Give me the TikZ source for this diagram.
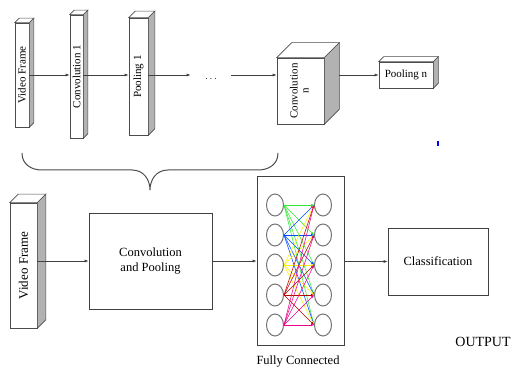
\documentclass[tikz,border=0pt]{standalone}
\usepackage{fontspec}
\setmainfont{Liberation Serif}
\usepackage{graphicx}
\usetikzlibrary{shapes,arrows.meta}

% top and side faces behind a slab node: #1 node name, #2 depth
\newcommand{\slabfaces}[2]{%
  \filldraw[draw=black!70, fill=white, line width=0.6pt]
    (#1.north west) -- ++(#2,-#2) -- ([shift={(#2,-#2)}]#1.north east) -- (#1.north east) -- cycle;
  \filldraw[draw=black!70, fill=black!30, line width=0.6pt]
    (#1.north east) -- ++(#2,-#2) -- ([shift={(#2,-#2)}]#1.south east) -- (#1.south east) -- cycle;
}

\begin{document}
\begin{tikzpicture} [
    x=1pt, y=-1pt,
    node distance=60pt,
    line width=0.6pt,
  ]

  \tikzstyle{slab} = [
    rectangle,
    draw=black!70,
    fill=white,
    inner sep=0pt,
    font=\fontsize{11}{13}\selectfont,
  ]
  \tikzstyle{block} = [
    rectangle,
    draw=black!75,
    fill=white,
    inner sep=0pt,
    align=center,
    font=\fontsize{12.5}{15}\selectfont,
  ]
  \tikzstyle{neuron} = [
    ellipse,
    draw=black!55,
    line width=1pt,
    minimum width=17pt,
    minimum height=22pt,
    inner sep=0pt,
  ]
  \tikzstyle{link} = [
    draw=black!75,
    -{Latex[length=4pt,width=3pt]},
  ]
  \tikzstyle{fcedge} = [
    line width=0.5pt,
    -{Latex[length=3pt,width=2.5pt]},
  ]

  \useasboundingbox (0,0) rectangle (520,379);

  % layers of the network
  \node[slab, minimum width=14pt, minimum height=104pt] at (22,75)  (vf1)   {\rotatebox{90}{Video Frame}};
  \node[slab, minimum width=13pt, minimum height=123pt, right of=vf1, xshift=-5.5pt, yshift=-1.5pt] (conv1) {\rotatebox{90}{Convolution 1}};
  \node[slab, minimum width=19pt, minimum height=117pt, right of=conv1, xshift=2pt] (pool1) {\rotatebox{90}{Pooling 1}};
  \node[inner sep=0pt, minimum width=40pt, right of=pool1, xshift=12.5pt, yshift=1.5pt] (dots) {\smash{\raisebox{-6.5pt}{$\cdots$}}};
  \node[slab, minimum width=47pt, minimum height=66pt, right of=dots, xshift=29.5pt, yshift=-16pt] (convn) {\rotatebox{90}{\begin{tabular}{@{}c@{}}Convolution\\[-2pt] n\end{tabular}}};
  \node[slab, minimum width=54pt, minimum height=26pt, right of=convn, xshift=45.5pt, yshift=16pt] (pooln) {Pooling n};

  \slabfaces{vf1}{4.5}
  \slabfaces{conv1}{4.5}
  \slabfaces{pool1}{6.5}
  \slabfaces{convn}{15}
  \slabfaces{pooln}{5}

  \path[link] (vf1.east)   -- (vf1.east -| conv1.west);
  \path[link] (conv1.east |- vf1.east) -- (vf1.east -| pool1.west);
  \path[link] (pool1.east |- vf1.east) -- (dots.west);
  \path[link] (dots.east)  -- (dots.east -| convn.west);
  \path[link] ([xshift=15pt]convn.east |- pooln.west) -- (pooln.west);

  % all of the above folds into one stage
  \coordinate (bl) at (22,153);
  \coordinate (bm) at (150,190);
  \coordinate (br) at (278,153);
  \draw[black!70, line width=1pt]
    (bl) .. controls +(0,12) and +(-10,0) .. (42,170) -- (132,170)
         .. controls +(12,0) and +(0,-10) .. (bm)
         .. controls +(0,-10) and +(-12,0) .. (168,170) -- (258,170)
         .. controls +(10,0) and +(0,12) .. (br);

  \draw[blue, line width=1.2pt] (438,141) -- (438,146);

  % the whole pipeline
  \node[slab, minimum width=27pt, minimum height=125pt, font=\fontsize{13}{15}\selectfont] at (23.5,265.5) (vf2) {\rotatebox{90}{Video Frame}};
  \slabfaces{vf2}{8.5}
  \node[block, minimum width=123pt, minimum height=96pt, right of=vf2, xshift=67pt, yshift=4.5pt] (cp)  {Convolution\\and Pooling};
  \node[block, minimum width=87pt, minimum height=169pt, right of=cp, xshift=90pt, yshift=0.5pt] (fc)  {};
  \node[block, minimum width=100pt, minimum height=67pt, right of=fc, xshift=77.5pt, yshift=-1pt] (cls) {Classification};

  \path[link] (vf2.east |- cp.west) -- (cp.west);
  \path[link] (cp.east)  -- (cp.east -| fc.west);
  \path[link] (fc.east |- cls.west) -- (cls.west);

  % fully connected layer
  \foreach \i in {1,...,5} {
    \node[neuron] (l\i) at (275,175+30*\i) {};
    \node[neuron] (r\i) at (323,175+30*\i) {};
  }
  \foreach \i/\c in {1/green!90!black!80, 2/blue!70!cyan, 3/yellow, 4/red!75!black, 5/magenta} {
    \foreach \j in {1,...,5}
      \draw[fcedge, \c] (l\i.east) -- (r\j.west);
  }

  \node[font=\fontsize{12.5}{15}\selectfont] at (298,362) (fclabel) {Fully Connected};
  \node[font=\fontsize{14}{16}\selectfont]   at (483,342) (output)  {OUTPUT};

\end{tikzpicture}
\end{document}
